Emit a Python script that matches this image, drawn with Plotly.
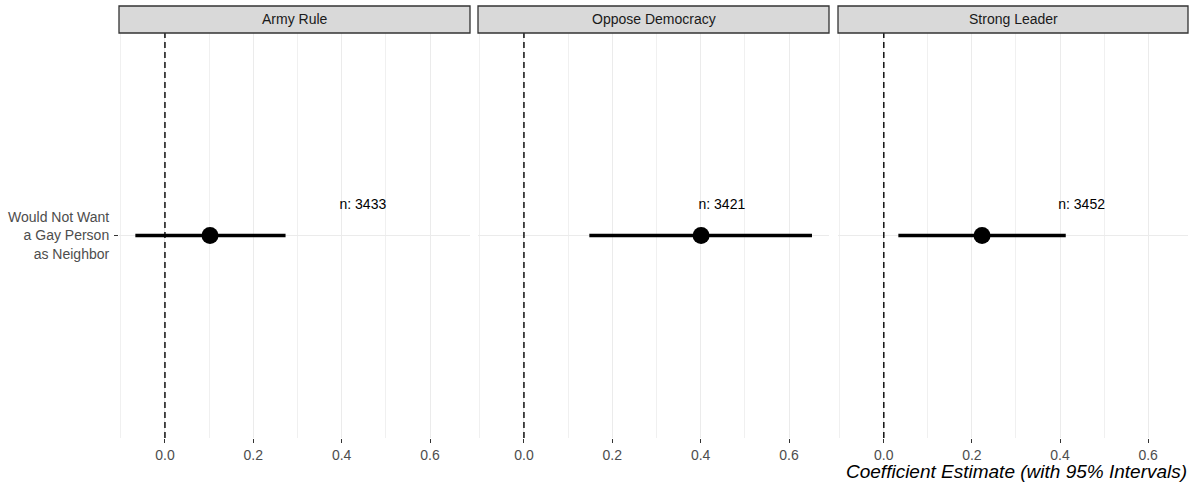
import plotly.graph_objects as go

# ---- data ----
outcomes = ["Army Rule", "Oppose Democracy", "Strong Leader"]
predictor_label = "Would Not Want<br>a Gay Person<br>as Neighbor"
estimates = [0.102, 0.401, 0.223]
lower = [-0.067, 0.148, 0.033]
upper = [0.273, 0.652, 0.413]
n_obs = [3433, 3421, 3452]
n_label_x = [0.448, 0.448, 0.449]
x_ticks = [0.0, 0.2, 0.4, 0.6]
x_ticktext = ["0.0", "0.2", "0.4", "0.6"]
x_minor = [-0.1, 0.1, 0.3, 0.5]

W, H = 1201, 487
panels_px = [(119, 470), (478, 829), (838, 1188)]
top_px, bot_px, strip_top_px = 33, 438, 6

FONT = "Liberation Sans, Arial, sans-serif"
fig = go.Figure()

xr = [-0.104, 0.6905]
for i, name in enumerate(outcomes):
    sfx = "" if i == 0 else str(i + 1)
    xa, ya = "x" + sfx, "y" + sfx
    # interval
    fig.add_trace(go.Scatter(x=[lower[i], upper[i]], y=[1, 1], mode="lines",
                             line=dict(color="black", width=3.4),
                             xaxis=xa, yaxis=ya, showlegend=False, hoverinfo="skip"))
    fig.add_trace(go.Scatter(x=[estimates[i]], y=[1], mode="markers",
                             marker=dict(color="black", size=17),
                             xaxis=xa, yaxis=ya, showlegend=False))
    fig.add_trace(go.Scatter(x=[n_label_x[i]], y=[1.09], mode="text",
                             text=["n: %d" % n_obs[i]], textposition="middle center",
                             textfont=dict(family=FONT, size=14, color="black"),
                             xaxis=xa, yaxis=ya, showlegend=False, hoverinfo="skip"))
    l, r = panels_px[i]
    dom = [l / W, r / W]
    fig.layout["xaxis" + sfx] = dict(
        domain=dom, range=xr, anchor=ya, tickvals=x_ticks, ticktext=x_ticktext,
        showgrid=True, gridcolor="#ebebeb", gridwidth=1, zeroline=False,
        ticks="outside", ticklen=4, tickcolor="#333333", tickwidth=1,
        tickfont=dict(family=FONT, size=14, color="#4d4d4d"),
        minor=dict(tickvals=x_minor, showgrid=True, gridcolor="#f0f0f0", gridwidth=0.8, ticks=""),
        showline=False, fixedrange=True)
    fig.layout["yaxis" + sfx] = dict(
        domain=[1 - bot_px / H, 1 - top_px / H], range=[0.4, 1.6], anchor=xa,
        tickvals=[1], ticktext=[predictor_label] if i == 0 else [""],
        showticklabels=(i == 0), ticks="outside" if i == 0 else "", ticklen=4,
        tickcolor="#333333", tickwidth=1, ticklabelstandoff=2,
        showgrid=True, gridcolor="#ebebeb", gridwidth=1, zeroline=False,
        tickfont=dict(family=FONT, size=14, color="#4d4d4d"), fixedrange=True)
    # zero reference line
    fig.add_shape(type="line", xref=xa, yref=ya + " domain", x0=0, x1=0, y0=0, y1=1,
                  line=dict(color="black", width=1.4, dash="6px,4px"))
    # strip
    fig.add_shape(type="rect", xref="paper", yref="paper", x0=l / W, x1=r / W,
                  y0=1 - top_px / H, y1=1 - strip_top_px / H,
                  fillcolor="#d9d9d9", line=dict(color="#333333", width=1.3))
    fig.add_annotation(xref="paper", yref="paper", x=(l + r) / 2 / W,
                       y=1 - (top_px + strip_top_px) / 2 / H, text=name, showarrow=False,
                       xanchor="center", yanchor="middle",
                       font=dict(family=FONT, size=14, color="#1a1a1a"))

fig.add_annotation(xref="paper", yref="paper", x=1189 / W, y=1 - 471 / H,
                   text="<i>Coefficient Estimate (with 95% Intervals)</i>", showarrow=False,
                   xanchor="right", yanchor="middle",
                   font=dict(family=FONT, size=19, color="black"))

fig.update_layout(width=W, height=H, margin=dict(l=0, r=0, t=0, b=0),
                  paper_bgcolor="white", plot_bgcolor="white",
                  font=dict(family=FONT))
fig.write_html("out.html", config={"displayModeBar": False},
               post_script="document.body.style.margin='0';document.body.style.overflow='hidden';")
